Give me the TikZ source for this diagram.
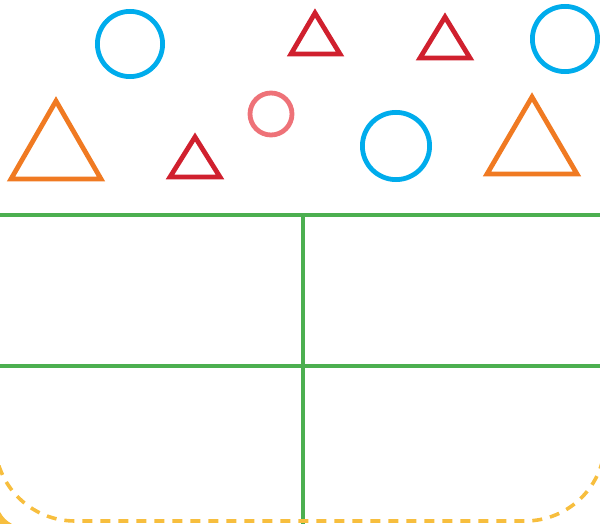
\documentclass[tikz,border=0pt]{standalone}
\usepackage{xcolor}
\usepackage{tikz}
\definecolor{ringblue}{RGB}{0, 172, 236}
\definecolor{ringpink}{RGB}{238, 114, 120}
\definecolor{trired}{RGB}{208, 32, 46}
\definecolor{triorange}{RGB}{240, 122, 34}
\definecolor{gridgreen}{RGB}{76, 175, 80}
\definecolor{dashgold}{RGB}{247, 190, 62}

\begin{document}
\begin{tikzpicture}[
    x=0.5pt, y=-0.5pt,
    outline/.style={line width=2.4pt, line join=miter},
    bluering/.style={outline, draw=ringblue},
    pinkring/.style={outline, draw=ringpink},
    redtri/.style={outline, draw=trired},
    orangetri/.style={outline, draw=triorange},
    gridline/.style={draw=gridgreen, line width=1.8pt},
    dashline/.style={draw=dashgold, line width=1.8pt, dash pattern=on 5pt off 4pt, rounded corners=40pt}
]
\useasboundingbox (0,0) rectangle (600,524);
\clip (0,0) rectangle (600,524);

% circles
\draw[bluering] (130,44) circle[radius=16.3pt];
\draw[bluering] (565,39) circle[radius=16.3pt];
\draw[bluering] (396,146) circle[radius=16.8pt];
\draw[pinkring] (271,114) circle[radius=10.5pt];

% triangles
\draw[orangetri] (56,101) -- (11,179) -- (101,179) -- cycle;
\draw[orangetri] (532,97) -- (487,174) -- (577,174) -- cycle;
\draw[redtri] (195,137) -- (170,177) -- (220,177) -- cycle;
\draw[redtri] (315,13) -- (291,54) -- (340,54) -- cycle;
\draw[redtri] (445,17) -- (420,58) -- (470,58) -- cycle;

% table
\draw[gridline] (0,215) -- (600,215);
\draw[gridline] (0,366) -- (600,366);
\draw[gridline] (303,215) -- (303,524);

% dashed border
\draw[dashline] (-5,250) -- (-5,521) -- (605,521) -- (605,250);
\fill[dashgold] (0,512) to[bend right=15] (12,524) -- (0,524) -- cycle;

\end{tikzpicture}
\end{document}
